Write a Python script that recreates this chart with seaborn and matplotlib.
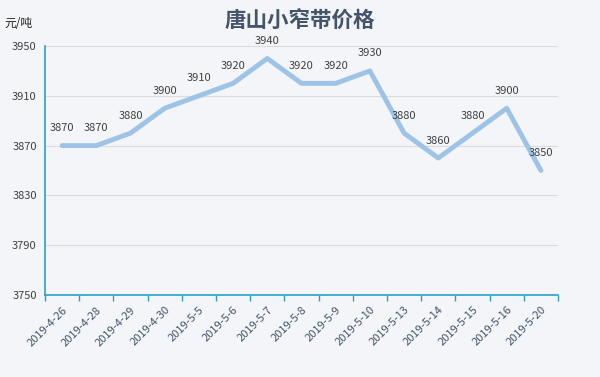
import pandas as pd
import matplotlib
matplotlib.use('Agg')
import matplotlib.pyplot as plt
import seaborn as sns

# 数据
dates = ['2019-4-26', '2019-4-28', '2019-4-29', '2019-4-30', '2019-5-5',
         '2019-5-6', '2019-5-7', '2019-5-8', '2019-5-9', '2019-5-10',
         '2019-5-13', '2019-5-14', '2019-5-15', '2019-5-16', '2019-5-20']
prices = [3870, 3870, 3880, 3900, 3910, 3920, 3940, 3920, 3920, 3930,
          3880, 3860, 3880, 3900, 3850]
y_ticks = [3750, 3790, 3830, 3870, 3910, 3950]

df = pd.DataFrame({'日期': dates, '价格': prices})

sns.set_style('white')
plt.rcParams['font.family'] = ['Noto Sans CJK SC', 'DejaVu Sans']

bg = '#f3f5f8'
fig = plt.figure(figsize=(6, 3.77), dpi=100, facecolor=bg)
ax = fig.add_axes([0.075, 0.2175, 0.855, 0.6605], facecolor=bg)

sns.lineplot(data=df, x='日期', y='价格', ax=ax, color='#9dc3e6',
             linewidth=3.5, sort=False)

ax.set_ylim(3750, 3950)
ax.set_xlim(-0.5, len(dates) - 0.5)
ax.set_yticks(y_ticks)
ax.yaxis.grid(True, color='#dcdcdc', linewidth=0.8)
ax.set_axisbelow(True)

for i, v in enumerate(prices):
    ax.annotate(str(v), (i, v), xytext=(0, 9), textcoords='offset points',
                ha='center', va='bottom', fontsize=8, color='#404040')

ax.set_xlabel('')
ax.set_ylabel('')
# 刻度线在类别之间，标签在类别中心
ax.set_xticks([k - 0.5 for k in range(len(dates) + 1)])
ax.set_xticklabels([])
ax.set_xticks(range(len(dates)), minor=True)
ax.set_xticklabels(dates, minor=True, rotation=45, ha='right',
                   rotation_mode='anchor', fontsize=8, color='#44546a')
ax.tick_params(axis='x', which='major', bottom=True, length=4, width=1,
               color='#2aa0c8', direction='out')
ax.tick_params(axis='x', which='minor', bottom=False, length=0, pad=7)
ax.tick_params(axis='y', labelsize=8, colors='#404040', length=0, pad=6)

for s in ['top', 'right']:
    ax.spines[s].set_visible(False)
for s in ['left', 'bottom']:
    ax.spines[s].set_color('#2aa0c8')
    ax.spines[s].set_linewidth(1.2)

fig.text(0.5, 0.945, '唐山小窄带价格', ha='center', va='center',
         fontsize=15.5, fontweight='bold', color='#44546a')
fig.text(0.008, 0.937, '元/吨', ha='left', va='center', fontsize=8.5,
         color='#222222')

fig.savefig('out.png', dpi=100, facecolor=bg)
